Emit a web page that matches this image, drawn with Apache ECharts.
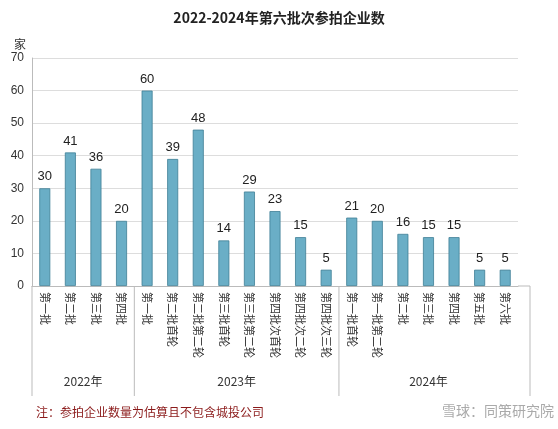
<!DOCTYPE html><html><head><meta charset="utf-8"><script src="https://cdn.jsdelivr.net/npm/echarts@6/dist/echarts.min.js"></script></head><body style="margin:0"><div id="c" style="width:558px;height:429px"></div><script>
const categories=['第一批','第二批','第三批','第四批','第一批','第二批首轮','第二批第二轮','第三批首轮','第三批第二轮','第四批次首轮','第四批次二轮','第四批次三轮','第一批首轮','第一批第二轮','第二批','第三批','第四批','第五批','第六批'];
const values=[30,41,36,20,60,39,48,14,29,23,15,5,21,20,16,15,15,5,5];
const groups=[['2022年',0,3],['2023年',4,11],['2024年',12,18]];
const ch=echarts.init(document.getElementById('c'));
const F='"Noto Sans CJK SC",sans-serif';
ch.setOption({
title:{text:'2022-2024年第六批次参拍企业数',left:'center',top:6,textStyle:{fontSize:14,fontWeight:'bold',color:'#222',fontFamily:F}},
grid:{left:32,right:40,top:58,bottom:143},
xAxis:{type:'category',data:categories,axisTick:{show:false},axisLine:{lineStyle:{color:'#bbb'}},axisLabel:{rotate:-90,interval:0,fontSize:11,color:'#333',fontFamily:F,margin:6}},
yAxis:{type:'value',min:0,max:70,interval:10,name:'家',nameGap:8,nameTextStyle:{align:'right',padding:[0,6,0,0],fontSize:12,color:'#333',fontFamily:F},axisLine:{show:true,lineStyle:{color:'#bbb'}},axisLabel:{fontSize:12,color:'#333'},splitLine:{lineStyle:{color:'#ddd'}}},
series:[{type:'bar',data:values,barWidth:11,itemStyle:{color:'#6aaec6',borderColor:'#3f7f96',borderWidth:0.8},label:{show:true,position:'top',fontSize:13,color:'#222'}}]
});
const g=[];const y0=ch.convertToPixel({yAxisIndex:0},0);
const px=i=>ch.convertToPixel({xAxisIndex:0},i);
const half=(px(1)-px(0))/2;
const bounds=[px(0)-half,px(3)+half,px(11)+half,530];
bounds.forEach(x=>g.push({type:'line',shape:{x1:x,y1:y0,x2:x,y2:y0+110},style:{stroke:'#bbb',lineWidth:1}}));
g.push({type:'line',shape:{x1:px(18)+half,y1:y0,x2:530,y2:y0},style:{stroke:'#bbb',lineWidth:1}});
groups.forEach(gr=>g.push({type:'text',x:(px(gr[1])+px(gr[2]))/2,y:y0+95,style:{text:gr[0],fill:'#333',font:'12px '+F,align:'center',verticalAlign:'middle'}}));
g.push({type:'text',left:36,top:406,style:{text:'注：参拍企业数量为估算且不包含城投公司',fill:'#8b1a1a',font:'12px '+F}});
g.push({type:'text',right:4,top:404,style:{text:'雪球：同策研究院',fill:'#aaa',font:'14px '+F}});
ch.setOption({graphic:g});
</script></body></html>
